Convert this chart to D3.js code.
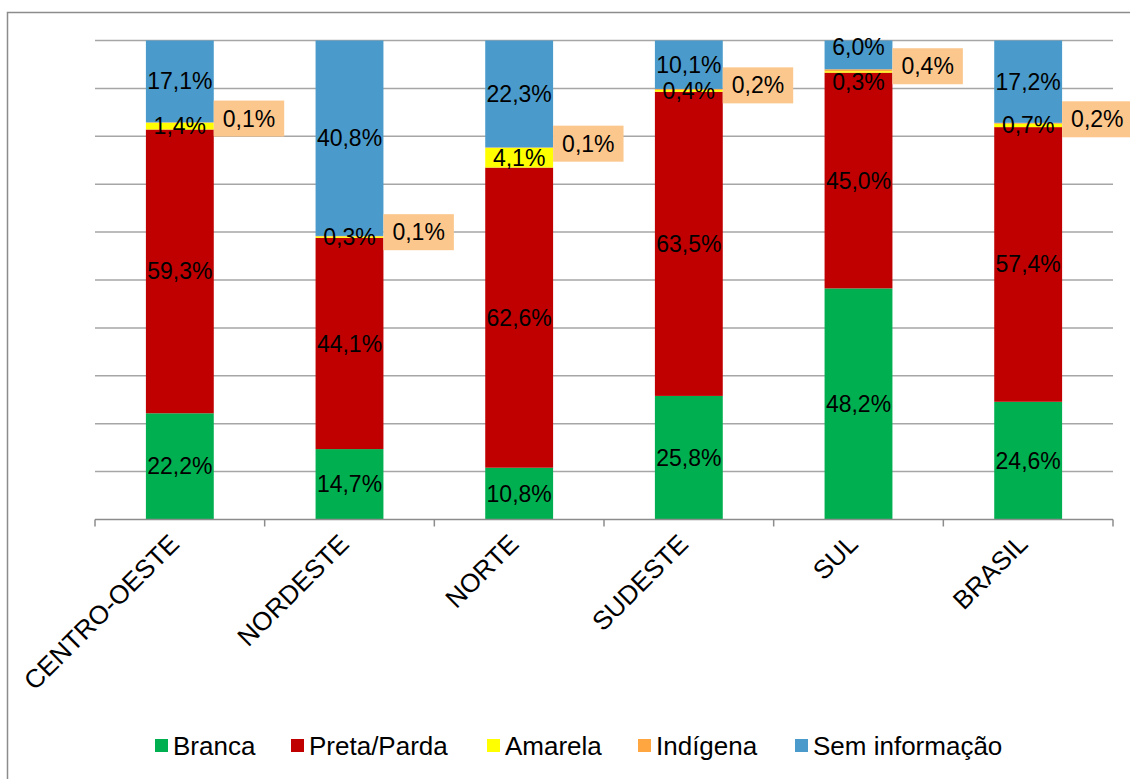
<!DOCTYPE html>
<html>
<head>
<meta charset="utf-8">
<script src="https://cdn.jsdelivr.net/npm/d3@7"></script>
<style>
  body { margin: 0; background: #fff; }
  svg { font-family: "Liberation Sans", Arial, sans-serif; }
</style>
</head>
<body>
<svg id="chart" width="1130" height="779"></svg>
<script>
// dados
const categories = ["CENTRO-OESTE", "NORDESTE", "NORTE", "SUDESTE", "SUL", "BRASIL"];
const seriesNames = ["Branca", "Preta/Parda", "Amarela", "Indígena", "Sem informação"];
const branca = [22.2, 14.7, 10.8, 25.8, 48.2, 24.6];
const pretaParda = [59.3, 44.1, 62.6, 63.5, 45.0, 57.4];
const amarela = [1.4, 0.3, 4.1, 0.4, 0.3, 0.7];
const indigena = [0.1, 0.1, 0.1, 0.2, 0.4, 0.2];
const semInfo = [17.1, 40.8, 22.3, 10.1, 6.0, 17.2];
const yTicks = [0, 0.1, 0.2, 0.3, 0.4, 0.5, 0.6, 0.7, 0.8, 0.9, 1];

const colors = ["#00b050", "#c00000", "#ffff00", "#ffa640", "#4a9bcb"];
const allSeries = [branca, pretaParda, amarela, indigena, semInfo];

const table = categories.map((c, i) => {
  const row = { cat: c };
  seriesNames.forEach((s, j) => { row[s] = allSeries[j][i]; });
  return row;
});

const svg = d3.select("#chart");
const margin = { top: 40.5, right: 17, bottom: 259.5, left: 95 };
const width = 1130 - margin.left - margin.right;
const height = 779 - margin.top - margin.bottom;

// moldura externa
svg.append("rect")
  .attr("x", 7.5).attr("y", 12.5)
  .attr("width", 1140).attr("height", 800)
  .attr("fill", "none").attr("stroke", "#8c8c8c").attr("stroke-width", 1.5);

const g = svg.append("g").attr("transform", `translate(${margin.left}, ${margin.top})`);

const x = d3.scaleBand().domain(categories).range([0, width]).paddingInner(0.6).paddingOuter(0.3);
const y = d3.scaleLinear().domain([0, 1]).range([height, 0]);

// linhas de grade
g.selectAll(".grid")
  .data(yTicks.slice(1))
  .enter()
  .append("line")
  .attr("x1", 0).attr("x2", width)
  .attr("y1", (d) => y(d)).attr("y2", (d) => y(d))
  .attr("stroke", "#a6a6a6").attr("stroke-width", 1.5);

const stack = d3.stack().keys(seriesNames).offset(d3.stackOffsetExpand);
const stacked = stack(table);

const layers = g.selectAll(".layer")
  .data(stacked)
  .enter()
  .append("g")
  .attr("fill", (d, i) => colors[i]);

layers.selectAll("rect")
  .data((d) => d)
  .enter()
  .append("rect")
  .attr("x", (d) => x(d.data.cat))
  .attr("width", x.bandwidth())
  .attr("y", (d) => y(d[1]))
  .attr("height", (d) => y(d[0]) - y(d[1]));

// eixo x
const step = x.step();
const x0 = x(categories[0]) - x.paddingOuter() * step;
g.append("line")
  .attr("x1", 0).attr("x2", width)
  .attr("y1", height).attr("y2", height)
  .attr("stroke", "#8c8c8c").attr("stroke-width", 1.5);
g.selectAll(".tick")
  .data(d3.range(categories.length + 1))
  .enter()
  .append("line")
  .attr("x1", (d) => x0 + d * step).attr("x2", (d) => x0 + d * step)
  .attr("y1", height).attr("y2", height + 7)
  .attr("stroke", "#8c8c8c").attr("stroke-width", 1.5);

g.selectAll(".cat")
  .data(categories)
  .enter()
  .append("text")
  .attr("transform", (d) => `translate(${x(d) + x.bandwidth() / 2 + 1}, ${height + 26}) rotate(-45)`)
  .attr("text-anchor", "end")
  .style("font-size", "26px")
  .attr("fill", "#000")
  .text((d) => d);

// rótulos
const fmt = (v) => d3.format(".1f")(v).replace(".", ",") + "%";

stacked.forEach((layer, li) => {
  layer.forEach((d, ci) => {
    const val = allSeries[li][ci];
    const cx = x(d.data.cat) + x.bandwidth() / 2;
    let cy = (y(d[0]) + y(d[1])) / 2;
    // afasta rótulos muito próximos (Amarela / Sem informação)
    const semC = (y(stacked[4][ci][0]) + y(stacked[4][ci][1])) / 2;
    const amaC = (y(stacked[2][ci][0]) + y(stacked[2][ci][1])) / 2;
    const tight = amaC - semC < 20;
    if (tight && li === 4) cy -= 8;
    if (tight && li === 2) cy += 10;
    if (seriesNames[li] === "Indígena") {
      const lg = g.append("g");
      const t = lg.append("text")
        .attr("y", cy - 4)
        .attr("dy", "0.35em")
        .style("font-size", "23px")
        .text(fmt(val));
      const tw = t.node().getComputedTextLength();
      const bx = x(d.data.cat) + x.bandwidth();
      lg.insert("rect", "text")
        .attr("x", bx).attr("y", cy - 4 - 18)
        .attr("width", tw + 18).attr("height", 36)
        .attr("fill", "#fcc78d");
      t.attr("x", bx + 9);
    } else {
      g.append("text")
        .attr("x", cx).attr("y", cy)
        .attr("dy", "0.35em")
        .attr("text-anchor", "middle")
        .style("font-size", "23px")
        .text(fmt(val));
    }
  });
});

// legenda
const legendX = [155, 291, 487, 638, 795];
const legend = svg.append("g").attr("transform", "translate(0, 746)");
const items = legend.selectAll("g")
  .data(seriesNames)
  .enter()
  .append("g")
  .attr("transform", (d, i) => `translate(${legendX[i]}, 0)`);
items.append("rect")
  .attr("x", 0).attr("y", -7).attr("width", 13).attr("height", 13)
  .attr("fill", (d, i) => colors[i]);
items.append("text")
  .attr("x", 18).attr("dy", "0.35em")
  .style("font-size", "26px")
  .text((d) => d);
</script>
</body>
</html>
